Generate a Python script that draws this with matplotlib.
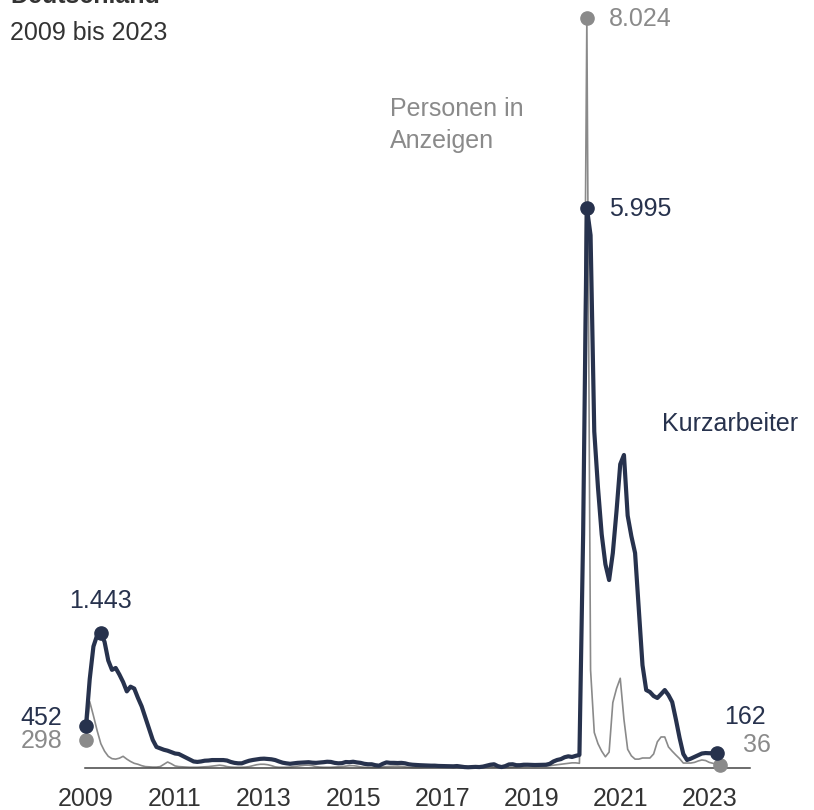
import matplotlib
matplotlib.use("Agg")
import matplotlib.pyplot as plt
import numpy as np

plt.rcParams['font.family'] = ['Liberation Sans', 'DejaVu Sans']

DARK = '#27324d'
GRAY = '#8a8a8a'
TEXT = '#333333'

# ---- data (thousands of persons, monthly from Jan 2009) ----
tick_years = [2009, 2011, 2013, 2015, 2017, 2019, 2021, 2023]

kurzarbeiter = [
    452, 950, 1300, 1420, 1443, 1350, 1150, 1050, 1070, 1000, 920, 820,      # 2009
    870, 850, 750, 660, 540, 420, 300, 225, 210, 195, 185, 170,              # 2010
    155, 150, 130, 110, 90, 70, 65, 70, 78, 80, 85, 85,                      # 2011
    85, 85, 80, 65, 55, 50, 50, 65, 78, 86, 92, 98,                          # 2012
    100, 96, 93, 85, 70, 57, 50, 45, 50, 55, 57, 60,                         # 2013
    62, 57, 55, 58, 62, 67, 65, 55, 50, 52, 64, 62,                          # 2014
    67, 60, 55, 45, 40, 40, 30, 25, 45, 60, 55, 55,                          # 2015
    53, 55, 50, 40, 35, 32, 30, 28, 25, 25, 25, 22,                          # 2016
    21, 21, 20, 18, 21, 15, 10, 8, 10, 12, 10, 15,                           # 2017
    25, 35, 40, 20, 10, 20, 38, 40, 30, 30, 35, 35,                          # 2018
    33, 32, 33, 35, 35, 45, 70, 86, 95, 115, 125, 118,                       # 2019
    130, 140, 2500, 5995, 5700, 3600, 3000, 2500, 2180, 2011, 2300, 2750,    # 2020
    3250, 3349, 2700, 2480, 2300, 1700, 1100, 834, 813, 770, 749, 790,       # 2021
    834, 780, 706, 520, 321, 150, 86, 100, 118, 135, 155, 160,               # 2022
    158, 160, 162,                                                           # 2023
]

anzeigen = [
    298, 710, 560, 400, 260, 180, 125, 100, 95, 105, 125, 95,                # 2009
    70, 50, 40, 25, 15, 12, 10, 10, 15, 40, 64, 45,                          # 2010
    22, 15, 12, 10, 8, 8, 8, 10, 12, 15, 20, 25,                             # 2011
    30, 25, 15, 10, 8, 8, 8, 10, 15, 25, 35, 40,                             # 2012
    40, 35, 25, 12, 8, 8, 8, 10, 15, 20, 25, 30,                             # 2013
    30, 25, 15, 10, 8, 8, 8, 10, 12, 15, 20, 25,                             # 2014
    25, 20, 12, 8, 8, 6, 6, 8, 12, 15, 18, 20,                               # 2015
    20, 18, 12, 8, 6, 6, 6, 8, 10, 12, 15, 18,                               # 2016
    18, 15, 10, 6, 5, 5, 5, 6, 8, 10, 12, 15,                                # 2017
    15, 15, 10, 8, 6, 6, 6, 8, 10, 15, 20, 25,                               # 2018
    25, 25, 20, 20, 20, 25, 30, 35, 40, 45, 50, 55,                          # 2019
    55, 50, 2600, 8024, 1050, 380, 260, 180, 120, 170, 700, 850,             # 2020
    960, 520, 200, 130, 95, 95, 107, 107, 107, 150, 280, 332,                # 2021
    332, 225, 180, 139, 100, 53, 53, 53, 60, 75, 86, 80,                     # 2022
    60, 50, 40, 36,                                                          # 2023
]

W, H = 814, 810
fig = plt.figure(figsize=(W / 100, H / 100), dpi=100)

x_left, x_right, y_base = 85, 750, 768
px_month = 3.71
px_unit = 0.09347
ax = fig.add_axes([x_left / W, (H - y_base) / H, (x_right - x_left) / W, y_base / H])
ax.set_xlim((x_left - 86) / px_month, (x_right - 86) / px_month)
ax.set_ylim(0, y_base / px_unit)

mk = np.arange(len(kurzarbeiter))
ma = np.arange(len(anzeigen))

ax.plot(ma, anzeigen, color=GRAY, lw=1.2, zorder=2, clip_on=False,
        solid_joinstyle='round')
ax.plot(mk, kurzarbeiter, color=DARK, lw=3.0, zorder=3, clip_on=False,
        solid_joinstyle='round', solid_capstyle='round')

for s in ['top', 'left', 'right']:
    ax.spines[s].set_visible(False)
ax.spines['bottom'].set_color('#444444')
ax.spines['bottom'].set_linewidth(1.1)
ax.set_yticks([])
ax.set_xticks([(y - 2009) * 12 for y in tick_years])
ax.set_xticklabels([str(y) for y in tick_years])
FS = 18
ax.tick_params(axis='x', length=0, pad=14, labelsize=FS, labelcolor=TEXT)

def fmt(v):
    return f"{v:,}".replace(',', '.')

k_first = 0
k_peak1 = int(np.argmax(kurzarbeiter[:24]))
k_peak2 = int(np.argmax(kurzarbeiter))
k_last = len(kurzarbeiter) - 1
a_first = 0
a_peak = int(np.argmax(anzeigen))
a_last = len(anzeigen) - 1

for i in [k_first, k_peak1, k_peak2, k_last]:
    ax.plot(i, kurzarbeiter[i], 'o', color=DARK, ms=9.5, zorder=5, clip_on=False)
for i in [a_first, a_peak, a_last]:
    ax.plot(i, anzeigen[i], 'o', color=GRAY, ms=9.5, zorder=4, clip_on=False)

def lab(i, v, dx, dy, color, ha='left', va='center'):
    ax.annotate(fmt(v), xy=(i, v), xytext=(dx, dy), textcoords='offset pixels',
                ha=ha, va=va, fontsize=FS, color=color, zorder=6,
                annotation_clip=False)

lab(k_first, kurzarbeiter[k_first], -24, 8, DARK, ha='right')
lab(a_first, anzeigen[a_first], -24, -1, GRAY, ha='right')
lab(k_peak1, kurzarbeiter[k_peak1], 0, 32, DARK, ha='center')
lab(k_peak2, kurzarbeiter[k_peak2], 22, -1, DARK)
lab(a_peak, anzeigen[a_peak], 22, -1, GRAY)
lab(k_last, kurzarbeiter[k_last], 7, 36, DARK)
lab(a_last, anzeigen[a_last], 23, 20, GRAY)

# series names
fig.text(662 / W, 1 - 424 / H, 'Kurzarbeiter', fontsize=FS, color=DARK,
         ha='left', va='center')
fig.text(390 / W, 1 - 125 / H, 'Personen in\nAnzeigen', fontsize=FS, color=GRAY,
         ha='left', va='center', linespacing=1.4)

# title block (top line cut off by the frame, as in the source)
fig.text(10 / W, 1 - 3 / H, 'Deutschland', fontsize=FS, color=TEXT,
         fontweight='bold', ha='left', va='baseline')
fig.text(10 / W, 1 - 33 / H, '2009 bis 2023', fontsize=FS, color=TEXT,
         ha='left', va='center')

fig.savefig('out.png', dpi=100, facecolor='white')
